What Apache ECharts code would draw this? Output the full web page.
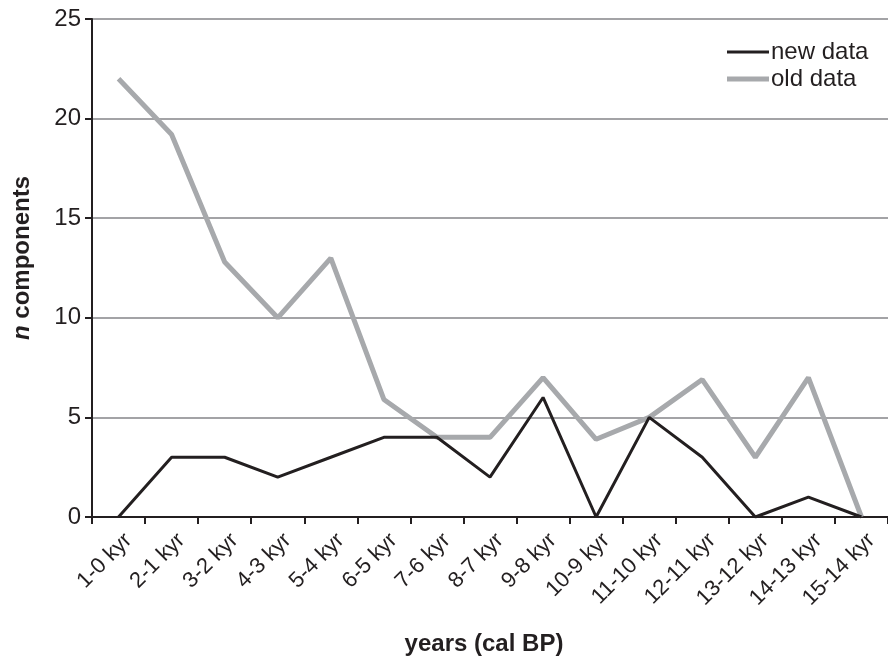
<!DOCTYPE html>
<html>
<head>
<meta charset="utf-8">
<script src="https://cdn.jsdelivr.net/npm/echarts@6/dist/echarts.min.js"></script>
<style>
  html, body { margin: 0; padding: 0; background: #fff; }
  #chart { width: 888px; height: 658px; }
</style>
</head>
<body>
<div id="chart"></div>
<script>
    var categories = ["1-0 kyr", "2-1 kyr", "3-2 kyr", "4-3 kyr", "5-4 kyr", "6-5 kyr", "7-6 kyr", "8-7 kyr",
        "9-8 kyr", "10-9 kyr", "11-10 kyr", "12-11 kyr", "13-12 kyr", "14-13 kyr", "15-14 kyr"];
    var newData = [0, 3, 3, 2, 3, 4, 4, 2, 6, 0, 5, 3, 0, 1, 0];
    var oldData = [22, 19.2, 12.8, 10, 13, 5.9, 4, 4, 7, 3.9, 5, 6.9, 3, 7, 0];
    var yTicks = [0, 5, 10, 15, 20, 25];

    var font = "Liberation Sans, Arial, sans-serif";
    var ink = "#231f20";
    var grey = "#a7a9ac";

    // legend swatch: a plain line, thin for new data, thick for old data
    // (the two tiny points pin the box to 42x22 so the line is not stretched)
    function lineIcon(w) {
        var y0 = 11 - w / 2, y1 = 11 + w / 2;
        return "path://M0,0L0.1,0L0.1,0.1ZM0,22L0.1,22L0.1,21.9Z" +
            "M0," + y0 + "L42," + y0 + "L42," + y1 + "L0," + y1 + "Z";
    }

    var chart = echarts.init(document.getElementById("chart"));

    var option = {
        animation: false,
        textStyle: { fontFamily: font },
        title: {
            text: "years (cal BP)",
            left: 484,
            top: 632,
            padding: 0,
            textAlign: "center",
            textStyle: { fontFamily: font, fontSize: 24, fontWeight: "bold", color: ink }
        },
        legend: {
            orient: "vertical",
            left: 727,
            top: 40,
            padding: 0,
            itemWidth: 42,
            itemHeight: 22,
            itemGap: 3,
            textStyle: { fontFamily: font, fontSize: 24, lineHeight: 22, color: ink, padding: [0, 0, 0, -3] },
            data: [
                { name: "new data", icon: lineIcon(3), itemStyle: { color: ink } },
                { name: "old data", icon: lineIcon(5), itemStyle: { color: grey } }
            ]
        },
        grid: { left: 92, right: -8, top: 19, bottom: 141, containLabel: false },
        xAxis: {
            type: "category",
            data: categories,
            boundaryGap: true,
            axisLine: { lineStyle: { color: ink, width: 2 } },
            axisTick: { show: true, length: 7, lineStyle: { color: ink, width: 2 } },
            axisLabel: { rotate: 45, fontSize: 22, color: ink, margin: 30, interval: 0, padding: [0, -14, 0, 0] }
        },
        yAxis: {
            type: "value",
            min: yTicks[0],
            max: yTicks[yTicks.length - 1],
            interval: 5,
            name: "{i|n} components",
            nameLocation: "middle",
            nameGap: 58,
            nameRotate: 90,
            nameTextStyle: {
                fontFamily: font, fontSize: 24, fontWeight: "bold", color: ink, padding: [0, 0, 0, 20],
                rich: { i: { fontFamily: font, fontSize: 24, fontWeight: "bold", fontStyle: "italic", color: ink } }
            },
            axisLine: { show: true, lineStyle: { color: ink, width: 2 } },
            axisTick: { show: true, length: 7, lineStyle: { color: ink, width: 2 } },
            axisLabel: { fontSize: 24, color: ink, margin: 11 },
            splitLine: { lineStyle: { color: "#a3a3a6", width: 2 } }
        },
        series: [{
            name: "new data",
            type: "line",
            data: newData,
            symbol: "none",
            z: 3,
            lineStyle: { color: ink, width: 3 },
            itemStyle: { color: ink }
        }, {
            name: "old data",
            type: "line",
            data: oldData,
            symbol: "none",
            z: 2,
            lineStyle: { color: grey, width: 5 },
            itemStyle: { color: grey }
        }]
    };
    chart.setOption(option);
</script>
</body>
</html>
